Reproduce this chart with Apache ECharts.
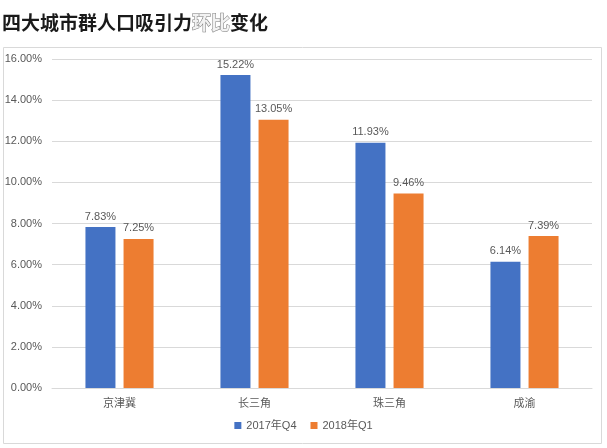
<!DOCTYPE html>
<html><head><meta charset="utf-8">
<script src="https://cdn.jsdelivr.net/npm/echarts@6/dist/echarts.min.js"></script>
<style>html,body{margin:0;padding:0;background:#fff}#c{width:607px;height:448px}</style>
</head><body><div id="c"></div>
<script>
const categories = ['京津冀', '长三角', '珠三角', '成渝'];
const seriesNames = ['2017年Q4', '2018年Q1'];
const q4 = [7.83, 15.22, 11.93, 6.14];
const q1 = [7.25, 13.05, 9.46, 7.39];

const chart = echarts.init(document.getElementById('c'));
const lbl = {show: true, position: 'top', distance: 5, color: '#595959', fontSize: 11,
  fontFamily: 'Liberation Sans, Noto Sans CJK SC', formatter: p => p.value.toFixed(2) + '%'};
chart.setOption({
  animation: false,
  title: {
    text: '{a|四大城市群人口吸引力}{b|环比}{a|变化}',
    left: 0, top: 8, padding: [5, 2],
    textStyle: {rich: {
      a: {fontSize: 19, fontWeight: 'bold', color: '#1a1a1a', fontFamily: 'Noto Sans CJK SC'},
      b: {fontSize: 19, fontWeight: 'bold', color: '#f2f2f2', textBorderColor: '#777', textBorderWidth: 1, fontFamily: 'Noto Sans CJK SC'}
    }}
  },
  graphic: [{type: 'rect', shape: {x: 3.5, y: 47.5, width: 598, height: 396},
    style: {fill: 'none', stroke: '#d9d9d9', lineWidth: 1}, silent: true}],
  legend: {
    bottom: 12, left: 'center', itemWidth: 7, itemHeight: 7, itemGap: 14,
    icon: 'rect', textStyle: {color: '#595959', fontSize: 11, fontFamily: 'Liberation Sans, Noto Sans CJK SC'},
    data: seriesNames
  },
  grid: {left: 52, right: 15, top: 59, bottom: 60},
  xAxis: {
    type: 'category', data: categories,
    axisLine: {lineStyle: {color: '#d9d9d9'}}, axisTick: {show: false},
    axisLabel: {color: '#595959', fontSize: 11, margin: 9, fontFamily: 'Noto Sans CJK SC'}
  },
  yAxis: {
    type: 'value', min: 0, max: 16, interval: 2,
    axisLine: {show: false}, axisTick: {show: false},
    splitLine: {lineStyle: {color: '#d9d9d9'}},
    axisLabel: {color: '#595959', fontSize: 11, margin: 10, fontFamily: 'Liberation Sans',
      formatter: v => v.toFixed(2) + '%'}
  },
  series: [
    {name: seriesNames[0], type: 'bar', data: q4, barWidth: 30, barGap: '27%', itemStyle: {color: '#4472C4'}, label: lbl},
    {name: seriesNames[1], type: 'bar', data: q1, barWidth: 30, itemStyle: {color: '#ED7D31'}, label: lbl}
  ]
});
</script></body></html>
